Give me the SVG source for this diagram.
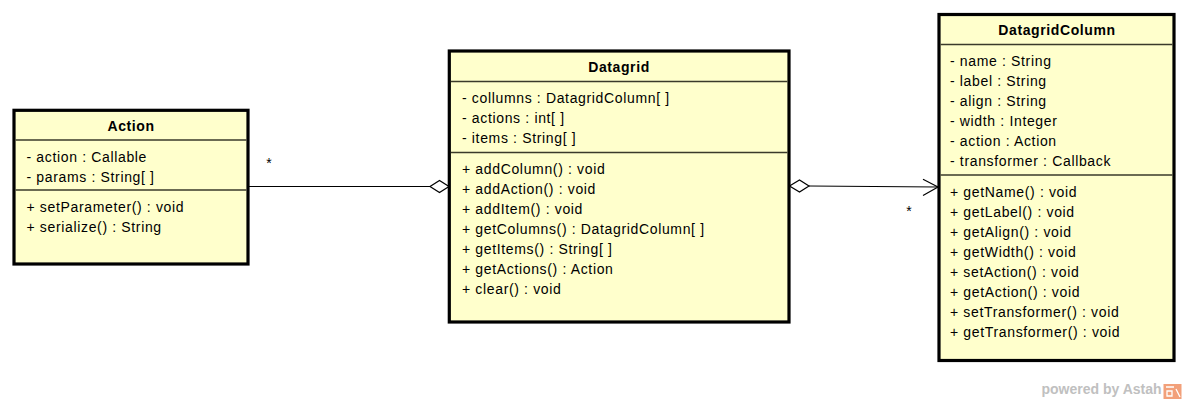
<svg xmlns="http://www.w3.org/2000/svg" width="1186" height="401" viewBox="0 0 1186 401">
  <style>
    .box { fill: #FFFFCC; stroke: #000; stroke-width: 3.2; }
    .sep { stroke: #3a3a2a; stroke-width: 1.4; fill: none; }
    .title { font-family: "Liberation Sans", Arial, sans-serif; font-size: 14px; font-weight: bold; fill: #000; text-anchor: middle; letter-spacing: 0.6px; }
    .t { font-family: "Liberation Sans", Arial, sans-serif; font-size: 14px; fill: #000; letter-spacing: 0.65px; }
    .edge { stroke: #000; stroke-width: 1.2; fill: none; }
    .dia { stroke: #000; stroke-width: 1.2; fill: #fff; }
    .mult { font-family: "Liberation Sans", Arial, sans-serif; font-size: 14px; fill: #000; text-anchor: middle; }
    .wm { font-family: "Liberation Sans", Arial, sans-serif; font-size: 14px; font-weight: bold; fill: #c0c0c0; }
  </style>

  <g id="connectors">
    <line class="edge" x1="248" y1="186.5" x2="430" y2="186.5"/>
    <polygon class="dia" points="449,186.5 439.5,180.5 430,186.5 439.5,192.5"/>
    <text class="mult" x="269" y="168">*</text>

    <line class="edge" x1="809" y1="186" x2="938" y2="187"/>
    <polygon class="dia" points="789.5,186 799.5,180 809,186 799.5,192"/>
    <polyline class="edge" points="923,179.3 938,187 923,195.5"/>
    <text class="mult" x="909" y="216">*</text>
  </g>

  <g id="Action">
    <rect class="box" x="14" y="110.3" width="234" height="153.7"/>
    <line class="sep" x1="15.5" y1="140" x2="246.5" y2="140"/>
    <line class="sep" x1="15.5" y1="190" x2="246.5" y2="190"/>
    <text class="title" x="131" y="131">Action</text>
    <text class="t" x="26.5" y="162">- action : Callable</text>
    <text class="t" x="26.5" y="182">- params : String[ ]</text>
    <text class="t" x="26.5" y="212">+ setParameter() : void</text>
    <text class="t" x="26.5" y="232">+ serialize() : String</text>
  </g>

  <g id="Datagrid">
    <rect class="box" x="449.3" y="51" width="339.7" height="271"/>
    <line class="sep" x1="451" y1="81.5" x2="787.5" y2="81.5"/>
    <line class="sep" x1="451" y1="152.5" x2="787.5" y2="152.5"/>
    <text class="title" x="619" y="71.5">Datagrid</text>
    <text class="t" x="462" y="102.5">- collumns : DatagridColumn[ ]</text>
    <text class="t" x="462" y="122.5">- actions : int[ ]</text>
    <text class="t" x="462" y="142.5">- items : String[ ]</text>
    <text class="t" x="462" y="173.5">+ addColumn() : void</text>
    <text class="t" x="462" y="193.5">+ addAction() : void</text>
    <text class="t" x="462" y="213.5">+ addItem() : void</text>
    <text class="t" x="462" y="233.5">+ getColumns() : DatagridColumn[ ]</text>
    <text class="t" x="462" y="253.5">+ getItems() : String[ ]</text>
    <text class="t" x="462" y="273.5">+ getActions() : Action</text>
    <text class="t" x="462" y="293.5">+ clear() : void</text>
  </g>

  <g id="DatagridColumn">
    <rect class="box" x="939" y="14.5" width="235" height="346"/>
    <line class="sep" x1="940.5" y1="44.5" x2="1172.5" y2="44.5"/>
    <line class="sep" x1="940.5" y1="175" x2="1172.5" y2="175"/>
    <text class="title" x="1057" y="35">DatagridColumn</text>
    <text class="t" x="950" y="66">- name : String</text>
    <text class="t" x="950" y="86">- label : String</text>
    <text class="t" x="950" y="106">- align : String</text>
    <text class="t" x="950" y="126">- width : Integer</text>
    <text class="t" x="950" y="146">- action : Action</text>
    <text class="t" x="950" y="166">- transformer : Callback</text>
    <text class="t" x="950" y="196.5">+ getName() : void</text>
    <text class="t" x="950" y="216.5">+ getLabel() : void</text>
    <text class="t" x="950" y="236.5">+ getAlign() : void</text>
    <text class="t" x="950" y="256.5">+ getWidth() : void</text>
    <text class="t" x="950" y="276.5">+ setAction() : void</text>
    <text class="t" x="950" y="296.5">+ getAction() : void</text>
    <text class="t" x="950" y="316.5">+ setTransformer() : void</text>
    <text class="t" x="950" y="336.5">+ getTransformer() : void</text>
  </g>

  <g id="watermark">
    <text class="wm" x="1041.5" y="394">powered by Astah</text>
    <rect x="1163.5" y="384" width="18" height="15" fill="#f2a07a"/>
    <path d="M1166,387 h8 M1167,391 h5 v5 h-5 z M1176,389 l4,8" stroke="#fff" stroke-width="1.3" fill="none"/>
  </g>
</svg>
